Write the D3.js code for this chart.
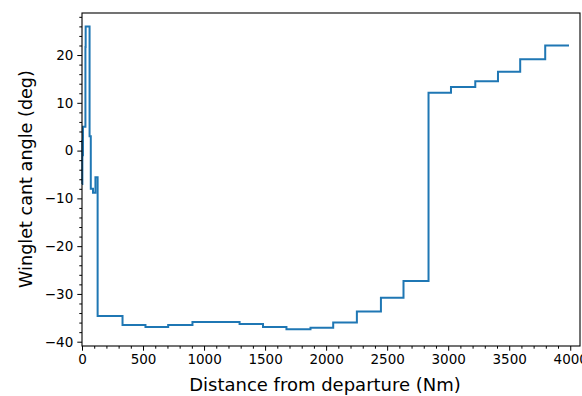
<!DOCTYPE html>
<html>
<head>
<meta charset="utf-8">
<style>
  body { margin: 0; background: #fff; }
  text { font-family: "DejaVu Sans", sans-serif; fill: #000; }
</style>
</head>
<body>
<div id="chart"></div>
<script src="https://cdn.jsdelivr.net/npm/d3@7"></script>
<script>
// distance (Nm) where each new cant angle starts, and the angle held from there
const distance = [0, 3, 5, 8, 28, 30, 38, 62, 72, 90, 110, 128, 332, 520, 706, 905, 1291, 1483, 1675,
  1872, 2058, 2252, 2449, 2634, 2839, 3023, 3222, 3408, 3590, 3795, 3990];
const cant = [-7, 2, -1, 5, 21.7, 26, 26, 3, -8, -8.8, -5.6, -34.6, -36.5, -36.9, -36.5, -35.9, -36.3,
  -36.9, -37.4, -37.1, -36.0, -33.7, -30.8, -27.3, 12.1, 13.3, 14.5, 16.5, 19.1, 22.0, 22.0];

const xTicks = [0, 500, 1000, 1500, 2000, 2500, 3000, 3500, 4000];
const yTicks = [-40, -30, -20, -10, 0, 10, 20];

const margin = {top: 13, right: 2, bottom: 50, left: 82},
      width = 582 - margin.left - margin.right,
      height = 396 - margin.top - margin.bottom;

const svg = d3.select('#chart').append('svg')
  .attr('width', 582)
  .attr('height', 396);

const g = svg.append('g')
  .attr('transform', `translate(${margin.left},${margin.top})`);

const x = d3.scaleLinear().domain([0, 4080]).range([0, width]);
const y = d3.scaleLinear().domain([-40.9, 28.8]).range([height, 0]);

const data = distance.map((d, i) => ({d: d, a: cant[i]}));

g.append('path')
  .datum(data)
  .attr('fill', 'none')
  .attr('stroke', '#1f77b4')
  .attr('stroke-width', 2)
  .attr('d', d3.line().x(d => x(d.d)).y(d => y(d.a)).curve(d3.curveStepAfter));

// minor ticks
const xMinor = d3.range(0, 4081, 100).filter(v => v % 500 !== 0);
const yMinor = d3.range(-40, 29, 2).filter(v => v % 10 !== 0);

g.append('g')
  .attr('transform', `translate(0,${height})`)
  .call(d3.axisBottom(x).tickValues(xMinor).tickSize(2.7).tickFormat(''))
  .call(a => a.select('.domain').remove());
g.append('g')
  .call(d3.axisLeft(y).tickValues(yMinor).tickSize(2.7).tickFormat(''))
  .call(a => a.select('.domain').remove());

const xAxis = g.append('g')
  .attr('transform', `translate(0,${height})`)
  .call(d3.axisBottom(x).tickValues(xTicks).tickFormat(d3.format('d'))
    .tickSize(4.7).tickPadding(4).tickSizeOuter(0));
const yAxis = g.append('g')
  .call(d3.axisLeft(y).tickValues(yTicks).tickFormat(d3.format('d'))
    .tickSize(4.7).tickPadding(4).tickSizeOuter(0));

[xAxis, yAxis].forEach(a => {
  a.selectAll('text').style('font-size', '13.5px').attr('fill', '#000');
  a.selectAll('line').attr('stroke', '#000').attr('stroke-width', 1);
  a.select('.domain').remove();
});
g.selectAll('.tick line').attr('stroke', '#000');

// frame
g.append('rect')
  .attr('width', width)
  .attr('height', height)
  .attr('fill', 'none')
  .attr('stroke', '#000')
  .attr('stroke-width', 1.1);

svg.append('text')
  .attr('x', 325)
  .attr('y', 391)
  .attr('text-anchor', 'middle')
  .style('font-size', '18px')
  .text('Distance from departure (Nm)');

svg.append('text')
  .attr('transform', `translate(32,179) rotate(-90)`)
  .attr('text-anchor', 'middle')
  .style('font-size', '17.6px')
  .text('Winglet cant angle (deg)');
</script>
</body>
</html>
